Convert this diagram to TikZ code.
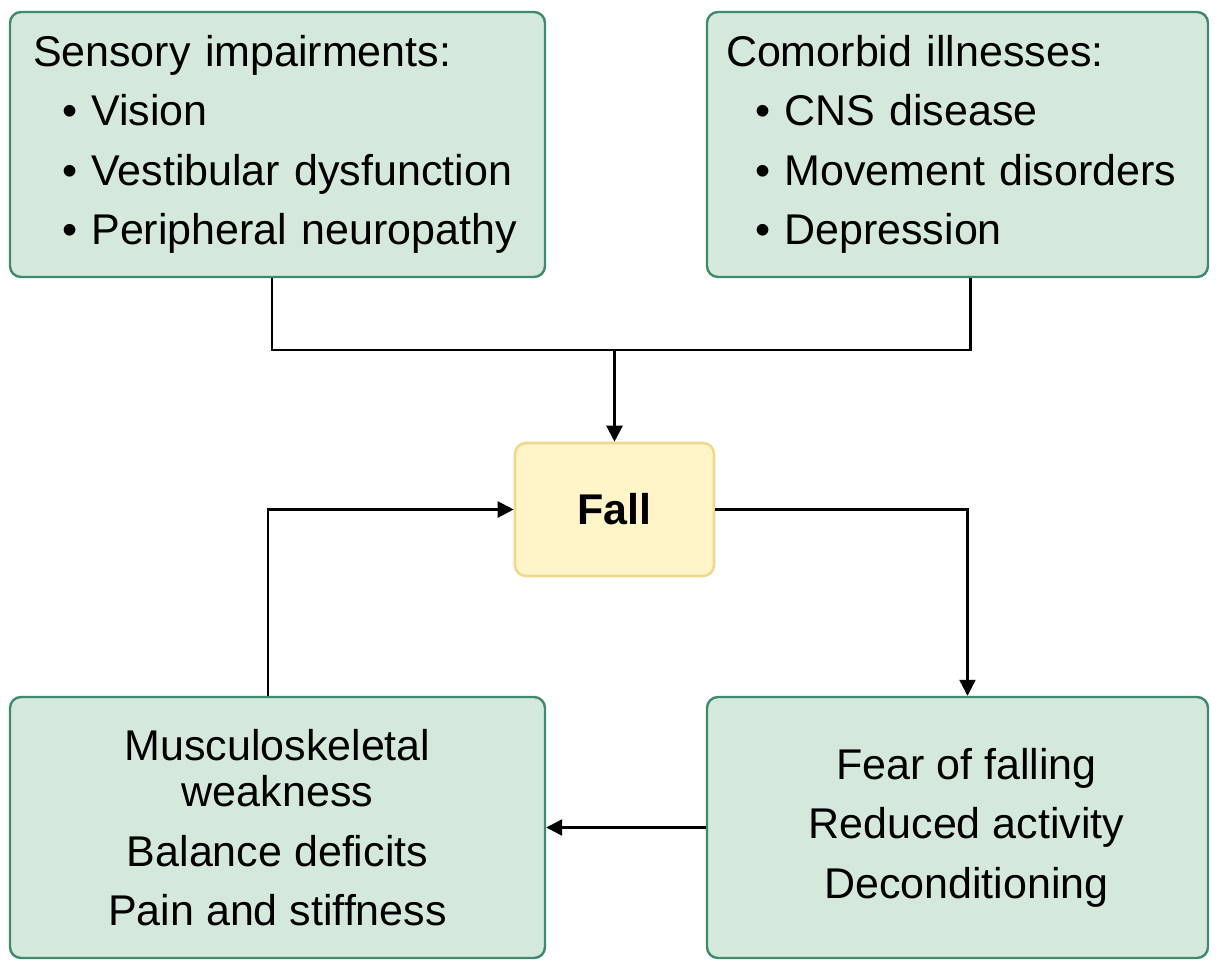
\documentclass[tikz,border=0pt]{standalone}
\usepackage{fontspec}
\setmainfont{Liberation Sans}
\usetikzlibrary{arrows.meta}

\definecolor{boxfill}{HTML}{D4E8DC}
\definecolor{boxline}{HTML}{3F8A6F}
\definecolor{fallfill}{HTML}{FFF5C8}
\definecolor{fallline}{HTML}{F0D98A}

\tikzset{
  factor/.style={draw=boxline, fill=boxfill, line width=2.4pt, rounded corners=11pt,
    font=\fontsize{43}{59.5}\selectfont, inner ysep=0pt},
  listbox/.style={factor, align=left, inner xsep=#1},
  centerbox/.style={factor, align=center},
  fallbox/.style={draw=fallline, fill=fallfill, line width=2.6pt, rounded corners=11pt,
    font=\fontsize{43}{50}\selectfont\bfseries, minimum width=199pt, minimum height=133pt},
  link/.style={line width=2.3pt, black},
  flow/.style={link, -{Triangle[length=16pt,width=16pt]}}
}
\newcommand{\bul}[1]{\hspace*{29pt}\textbullet\ #1}
\newcommand{\nudge}[1]{\hspace*{18pt}#1}

\begin{document}
\begin{tikzpicture}[x=1pt, y=-1pt]
  \useasboundingbox[fill=white] (0,0) rectangle (1217,961);

  % cause boxes along the top
  \node[listbox=23pt, text width=489pt, minimum width=535pt, minimum height=265pt] (tl) at (277.5,144.5)
    {Sensory impairments:\\ \bul{Vision}\\ \bul{Vestibular dysfunction}\\ \bul{Peripheral neuropathy}};
  \node[listbox=19pt, text width=463pt, minimum width=501pt, minimum height=265pt] (tr) at (957.5,144.5)
    {Comorbid illnesses:\\ \bul{CNS disease}\\ \bul{Movement disorders}\\ \bul{Depression}};

  % the central event
  \node[fallbox] (fall) at (614.5,509.5) {Fall};

  % consequence boxes along the bottom
  \node[centerbox, minimum width=535pt, minimum height=261pt] (bl) at (277.5,827.5)
    {Musculoskeletal\\[-13pt] weakness\\ Balance deficits\\ Pain and stiffness};
  \node[centerbox, minimum width=501pt, minimum height=261pt] (br) at (957.5,827.5)
    {\nudge{Fear of falling}\\ \nudge{Reduced activity}\\ \nudge{Deconditioning}};

  % connectors
  \coordinate (join) at (614.5,350);
  \draw[link] ([xshift=-5.5pt]tl.south) |- (join) -| ([xshift=13pt]tr.south);
  \draw[flow] (join) -- (fall.north);
  \draw[flow] (fall.east) -| ([xshift=10pt]br.north);
  \draw[flow] (br.west) -- (bl.east);
  \draw[flow] ([xshift=-9.5pt]bl.north) |- (fall.west);
\end{tikzpicture}
\end{document}
